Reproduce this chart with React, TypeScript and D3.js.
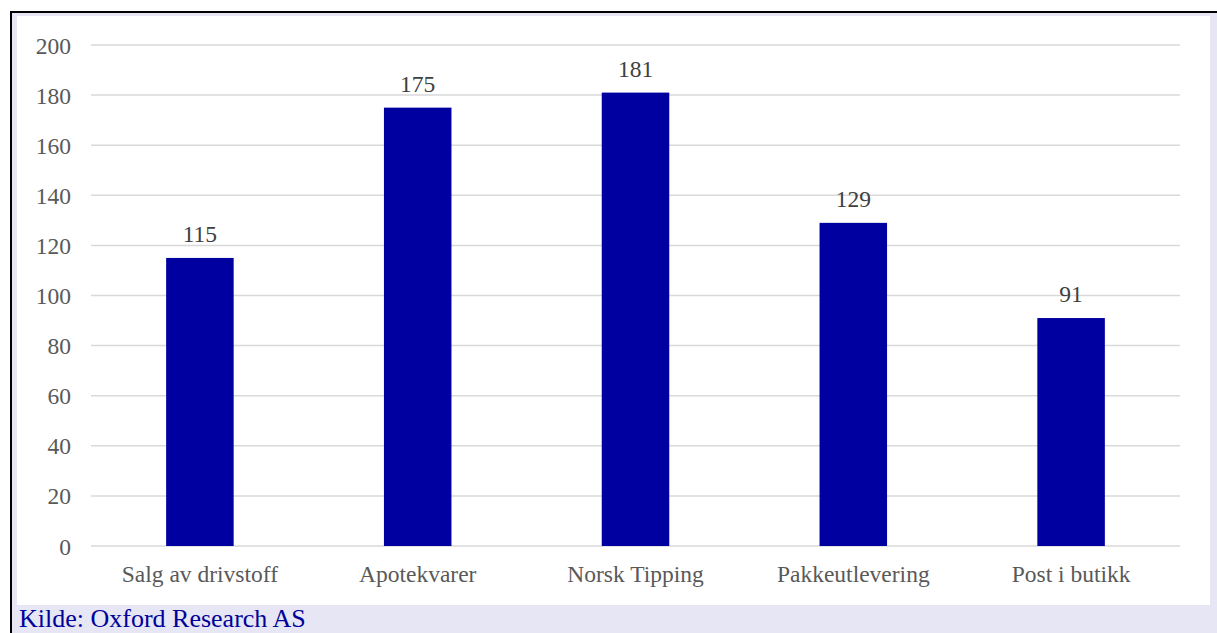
import React from "react";
import * as d3 from "d3";

const categories = ["Salg av drivstoff", "Apotekvarer", "Norsk Tipping", "Pakkeutlevering", "Post i butikk"];
const values = [115, 175, 181, 129, 91];
const yTicks = [0, 20, 40, 60, 80, 100, 120, 140, 160, 180, 200];
const source = "Kilde: Oxford Research AS";

export default function App() {
  const W = 1217, H = 633;
  const x = d3.scaleBand<string>().domain(categories).range([91, 1180]).paddingInner(0.69).paddingOuter(0.345);
  const y = d3.scaleLinear().domain([0, 200]).range([546, 45]);
  const font = "'Liberation Serif', 'Times New Roman', serif";
  return (
    <svg width={W} height={H} style={{ position: "absolute", left: 0, top: 0 }}>
      <rect x={0} y={0} width={W} height={H} fill="#fff" />
      <rect x={11} y={12} width={W - 11} height={H - 12} fill="#e6e6f4" />
      <rect x={17} y={16} width={1193} height={589} fill="#fff" />
      <line x1={10} y1={12} x2={W} y2={12} stroke="#000" strokeWidth={2} />
      <line x1={11} y1={11} x2={11} y2={H} stroke="#000" strokeWidth={2} />
      {yTicks.map((t) => (
        <g key={t}>
          <line x1={91} x2={1180} y1={y(t)} y2={y(t)} stroke="#d9d9d9" strokeWidth={1.5} />
          <text x={71} y={y(t) + 8.5} textAnchor="end" fontFamily={font} fontSize={23.5} fill="#595959">{t}</text>
        </g>
      ))}
      {categories.map((c, i) => (
        <g key={c}>
          <rect x={x(c)} y={y(values[i])} width={x.bandwidth()} height={y(0) - y(values[i])} fill="#0000a0" />
          <text x={(x(c) as number) + x.bandwidth() / 2} y={y(values[i]) - 16} textAnchor="middle" fontFamily={font} fontSize={23.5} fill="#404040">{values[i]}</text>
          <text x={(x(c) as number) + x.bandwidth() / 2} y={582} textAnchor="middle" fontFamily={font} fontSize={23.5} fill="#595959">{c}</text>
        </g>
      ))}
      <text x={19} y={627} fontFamily={font} fontSize={26} fill="#000099">{source}</text>
    </svg>
  );
}
